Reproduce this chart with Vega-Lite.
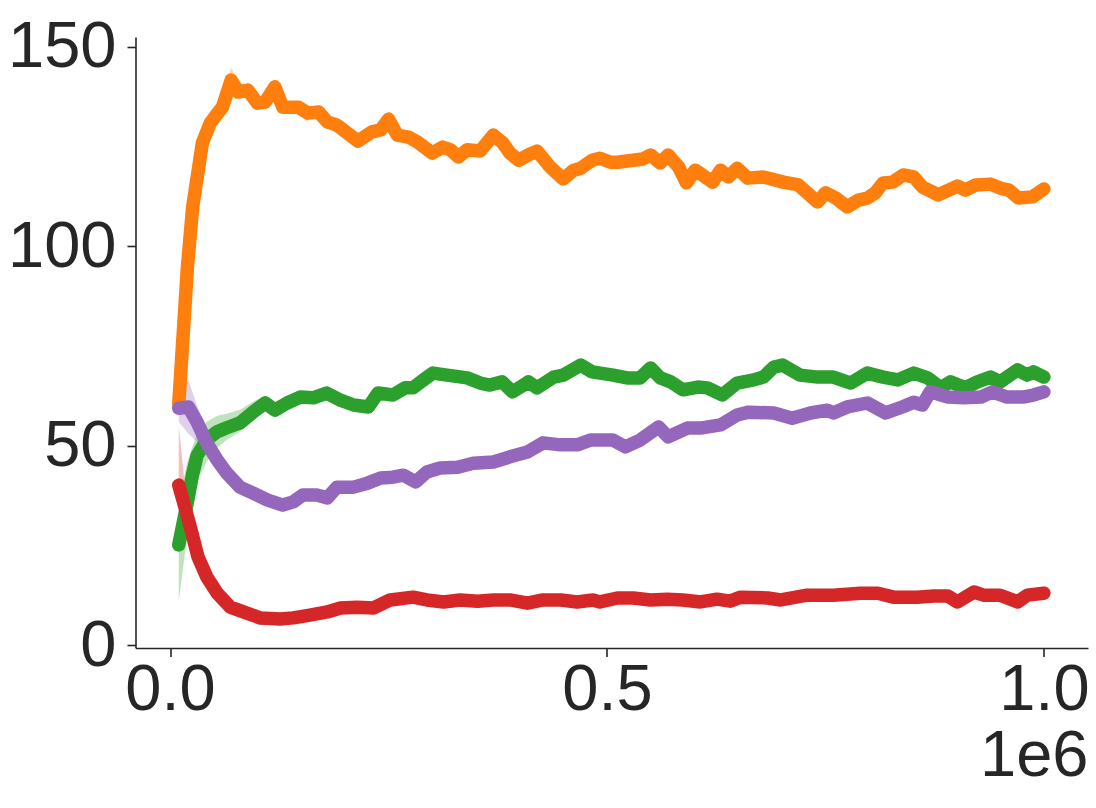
{
  "$schema": "https://vega.github.io/schema/vega-lite/v6.json",
  "width": 952.5,
  "height": 611,
  "autosize": {"type": "none"},
  "padding": {"left": 135.5, "top": 37, "right": 8, "bottom": 160},
  "background": "white",
  "config": {
    "view": {"stroke": null},
    "font": "Liberation Sans",
    "axis": {
      "grid": false,
      "domainColor": "#262626",
      "domainWidth": 1.6,
      "tickColor": "#262626",
      "tickWidth": 1.6,
      "tickSize": 8.5,
      "labelFont": "Liberation Sans",
      "labelFontSize": 65,
      "labelColor": "#262626",
      "labelFlush": false,
      "labelOverlap": false,
      "labelBound": false,
      "titleFont": "Liberation Sans",
      "titleFontSize": 65,
      "titleFontWeight": "normal",
      "titleColor": "#262626"
    }
  },
  "datasets": {
    "lines": [
      {"s": "orange", "x": 10000, "y": 60.5},
      {"s": "orange", "x": 20000, "y": 95},
      {"s": "orange", "x": 26000, "y": 110},
      {"s": "orange", "x": 37000, "y": 125.9},
      {"s": "orange", "x": 46000, "y": 130.9},
      {"s": "orange", "x": 60000, "y": 134.9},
      {"s": "orange", "x": 70000, "y": 141.7},
      {"s": "orange", "x": 78000, "y": 138.7},
      {"s": "orange", "x": 89000, "y": 139.2},
      {"s": "orange", "x": 100000, "y": 135.9},
      {"s": "orange", "x": 109000, "y": 136.2},
      {"s": "orange", "x": 120000, "y": 140.0},
      {"s": "orange", "x": 129000, "y": 134.9},
      {"s": "orange", "x": 147000, "y": 134.9},
      {"s": "orange", "x": 158000, "y": 133.4},
      {"s": "orange", "x": 170000, "y": 133.7},
      {"s": "orange", "x": 180000, "y": 131.2},
      {"s": "orange", "x": 191000, "y": 130.4},
      {"s": "orange", "x": 203000, "y": 128.4},
      {"s": "orange", "x": 215000, "y": 126.4},
      {"s": "orange", "x": 231000, "y": 128.7},
      {"s": "orange", "x": 241000, "y": 129.2},
      {"s": "orange", "x": 250000, "y": 131.9},
      {"s": "orange", "x": 260000, "y": 127.9},
      {"s": "orange", "x": 273000, "y": 127.4},
      {"s": "orange", "x": 283000, "y": 126.2},
      {"s": "orange", "x": 300000, "y": 123.4},
      {"s": "orange", "x": 312000, "y": 124.9},
      {"s": "orange", "x": 321000, "y": 124.2},
      {"s": "orange", "x": 330000, "y": 122.4},
      {"s": "orange", "x": 340000, "y": 124.2},
      {"s": "orange", "x": 355000, "y": 123.9},
      {"s": "orange", "x": 370000, "y": 127.9},
      {"s": "orange", "x": 381000, "y": 125.9},
      {"s": "orange", "x": 389000, "y": 123.4},
      {"s": "orange", "x": 399000, "y": 121.6},
      {"s": "orange", "x": 410000, "y": 122.9},
      {"s": "orange", "x": 420000, "y": 123.9},
      {"s": "orange", "x": 435000, "y": 119.9},
      {"s": "orange", "x": 450000, "y": 116.9},
      {"s": "orange", "x": 462000, "y": 119.1},
      {"s": "orange", "x": 470000, "y": 119.6},
      {"s": "orange", "x": 483000, "y": 121.6},
      {"s": "orange", "x": 492000, "y": 122.1},
      {"s": "orange", "x": 504000, "y": 121.1},
      {"s": "orange", "x": 512000, "y": 121.1},
      {"s": "orange", "x": 530000, "y": 121.6},
      {"s": "orange", "x": 541000, "y": 121.9},
      {"s": "orange", "x": 550000, "y": 122.9},
      {"s": "orange", "x": 561000, "y": 120.9},
      {"s": "orange", "x": 570000, "y": 122.9},
      {"s": "orange", "x": 582000, "y": 119.9},
      {"s": "orange", "x": 591000, "y": 115.9},
      {"s": "orange", "x": 601000, "y": 119.1},
      {"s": "orange", "x": 621000, "y": 116.1},
      {"s": "orange", "x": 630000, "y": 119.1},
      {"s": "orange", "x": 639000, "y": 117.4},
      {"s": "orange", "x": 649000, "y": 119.6},
      {"s": "orange", "x": 661000, "y": 117.1},
      {"s": "orange", "x": 679000, "y": 117.4},
      {"s": "orange", "x": 702000, "y": 116.1},
      {"s": "orange", "x": 719000, "y": 115.4},
      {"s": "orange", "x": 741000, "y": 111.1},
      {"s": "orange", "x": 750000, "y": 113.4},
      {"s": "orange", "x": 762000, "y": 112.1},
      {"s": "orange", "x": 775000, "y": 109.9},
      {"s": "orange", "x": 788000, "y": 111.6},
      {"s": "orange", "x": 798000, "y": 112.1},
      {"s": "orange", "x": 807000, "y": 113.4},
      {"s": "orange", "x": 816000, "y": 115.9},
      {"s": "orange", "x": 827000, "y": 116.1},
      {"s": "orange", "x": 839000, "y": 117.9},
      {"s": "orange", "x": 851000, "y": 117.4},
      {"s": "orange", "x": 861000, "y": 114.9},
      {"s": "orange", "x": 879000, "y": 112.9},
      {"s": "orange", "x": 901000, "y": 115.1},
      {"s": "orange", "x": 910000, "y": 114.1},
      {"s": "orange", "x": 922000, "y": 115.4},
      {"s": "orange", "x": 939000, "y": 115.6},
      {"s": "orange", "x": 950000, "y": 114.6},
      {"s": "orange", "x": 960000, "y": 114.1},
      {"s": "orange", "x": 971000, "y": 112.1},
      {"s": "orange", "x": 987000, "y": 112.4},
      {"s": "orange", "x": 1000000, "y": 114.4},

      {"s": "green", "x": 10000, "y": 25.1},
      {"s": "green", "x": 20000, "y": 36},
      {"s": "green", "x": 26000, "y": 43},
      {"s": "green", "x": 31000, "y": 47.5},
      {"s": "green", "x": 42000, "y": 51.5},
      {"s": "green", "x": 54000, "y": 53.5},
      {"s": "green", "x": 65000, "y": 54.5},
      {"s": "green", "x": 80000, "y": 55.7},
      {"s": "green", "x": 95000, "y": 58.4},
      {"s": "green", "x": 109000, "y": 60.7},
      {"s": "green", "x": 120000, "y": 58.9},
      {"s": "green", "x": 134000, "y": 60.7},
      {"s": "green", "x": 149000, "y": 62.2},
      {"s": "green", "x": 164000, "y": 62.0},
      {"s": "green", "x": 179000, "y": 63.2},
      {"s": "green", "x": 195000, "y": 61.4},
      {"s": "green", "x": 210000, "y": 60.2},
      {"s": "green", "x": 227000, "y": 59.7},
      {"s": "green", "x": 238000, "y": 63.2},
      {"s": "green", "x": 255000, "y": 62.7},
      {"s": "green", "x": 269000, "y": 64.5},
      {"s": "green", "x": 278000, "y": 64.5},
      {"s": "green", "x": 290000, "y": 66.5},
      {"s": "green", "x": 301000, "y": 68.2},
      {"s": "green", "x": 317000, "y": 67.7},
      {"s": "green", "x": 340000, "y": 67.0},
      {"s": "green", "x": 355000, "y": 65.7},
      {"s": "green", "x": 366000, "y": 65.2},
      {"s": "green", "x": 380000, "y": 66.0},
      {"s": "green", "x": 392000, "y": 63.5},
      {"s": "green", "x": 401000, "y": 64.7},
      {"s": "green", "x": 410000, "y": 66.0},
      {"s": "green", "x": 420000, "y": 64.5},
      {"s": "green", "x": 439000, "y": 67.2},
      {"s": "green", "x": 450000, "y": 67.7},
      {"s": "green", "x": 470000, "y": 70.2},
      {"s": "green", "x": 483000, "y": 68.5},
      {"s": "green", "x": 507000, "y": 67.7},
      {"s": "green", "x": 523000, "y": 67.0},
      {"s": "green", "x": 538000, "y": 67.0},
      {"s": "green", "x": 550000, "y": 69.5},
      {"s": "green", "x": 561000, "y": 67.0},
      {"s": "green", "x": 573000, "y": 66.0},
      {"s": "green", "x": 587000, "y": 64.0},
      {"s": "green", "x": 604000, "y": 64.7},
      {"s": "green", "x": 615000, "y": 64.5},
      {"s": "green", "x": 632000, "y": 62.7},
      {"s": "green", "x": 649000, "y": 65.7},
      {"s": "green", "x": 668000, "y": 66.5},
      {"s": "green", "x": 679000, "y": 67.2},
      {"s": "green", "x": 691000, "y": 69.7},
      {"s": "green", "x": 701000, "y": 70.2},
      {"s": "green", "x": 721000, "y": 67.7},
      {"s": "green", "x": 741000, "y": 67.2},
      {"s": "green", "x": 759000, "y": 67.2},
      {"s": "green", "x": 779000, "y": 65.7},
      {"s": "green", "x": 798000, "y": 68.2},
      {"s": "green", "x": 816000, "y": 67.2},
      {"s": "green", "x": 833000, "y": 66.5},
      {"s": "green", "x": 851000, "y": 68.2},
      {"s": "green", "x": 867000, "y": 67.0},
      {"s": "green", "x": 882000, "y": 64.5},
      {"s": "green", "x": 893000, "y": 66.0},
      {"s": "green", "x": 910000, "y": 64.5},
      {"s": "green", "x": 924000, "y": 66.0},
      {"s": "green", "x": 939000, "y": 67.2},
      {"s": "green", "x": 950000, "y": 66.0},
      {"s": "green", "x": 970000, "y": 69.0},
      {"s": "green", "x": 981000, "y": 67.7},
      {"s": "green", "x": 988000, "y": 68.5},
      {"s": "green", "x": 1000000, "y": 67.2},

      {"s": "red", "x": 10000, "y": 40.1},
      {"s": "red", "x": 17000, "y": 34.6},
      {"s": "red", "x": 25000, "y": 28.1},
      {"s": "red", "x": 32000, "y": 22.1},
      {"s": "red", "x": 42000, "y": 17.1},
      {"s": "red", "x": 54000, "y": 13.0},
      {"s": "red", "x": 69000, "y": 9.5},
      {"s": "red", "x": 84000, "y": 8.3},
      {"s": "red", "x": 103000, "y": 6.8},
      {"s": "red", "x": 126000, "y": 6.5},
      {"s": "red", "x": 141000, "y": 6.8},
      {"s": "red", "x": 160000, "y": 7.5},
      {"s": "red", "x": 180000, "y": 8.3},
      {"s": "red", "x": 195000, "y": 9.3},
      {"s": "red", "x": 214000, "y": 9.5},
      {"s": "red", "x": 233000, "y": 9.3},
      {"s": "red", "x": 252000, "y": 11.3},
      {"s": "red", "x": 278000, "y": 12.0},
      {"s": "red", "x": 294000, "y": 11.3},
      {"s": "red", "x": 313000, "y": 10.8},
      {"s": "red", "x": 332000, "y": 11.3},
      {"s": "red", "x": 352000, "y": 11.0},
      {"s": "red", "x": 370000, "y": 11.3},
      {"s": "red", "x": 389000, "y": 11.3},
      {"s": "red", "x": 409000, "y": 10.5},
      {"s": "red", "x": 427000, "y": 11.3},
      {"s": "red", "x": 447000, "y": 11.3},
      {"s": "red", "x": 466000, "y": 10.8},
      {"s": "red", "x": 484000, "y": 11.3},
      {"s": "red", "x": 492000, "y": 10.8},
      {"s": "red", "x": 512000, "y": 11.8},
      {"s": "red", "x": 530000, "y": 11.8},
      {"s": "red", "x": 550000, "y": 11.3},
      {"s": "red", "x": 569000, "y": 11.5},
      {"s": "red", "x": 587000, "y": 11.3},
      {"s": "red", "x": 607000, "y": 10.8},
      {"s": "red", "x": 626000, "y": 11.5},
      {"s": "red", "x": 641000, "y": 11.0},
      {"s": "red", "x": 653000, "y": 12.0},
      {"s": "red", "x": 684000, "y": 11.8},
      {"s": "red", "x": 699000, "y": 11.3},
      {"s": "red", "x": 729000, "y": 12.5},
      {"s": "red", "x": 759000, "y": 12.5},
      {"s": "red", "x": 790000, "y": 13.0},
      {"s": "red", "x": 810000, "y": 13.0},
      {"s": "red", "x": 828000, "y": 12.0},
      {"s": "red", "x": 855000, "y": 12.0},
      {"s": "red", "x": 874000, "y": 12.3},
      {"s": "red", "x": 890000, "y": 12.3},
      {"s": "red", "x": 901000, "y": 10.8},
      {"s": "red", "x": 920000, "y": 13.3},
      {"s": "red", "x": 931000, "y": 12.5},
      {"s": "red", "x": 950000, "y": 12.5},
      {"s": "red", "x": 970000, "y": 10.8},
      {"s": "red", "x": 981000, "y": 12.5},
      {"s": "red", "x": 1000000, "y": 13.0},

      {"s": "purple", "x": 10000, "y": 59.4},
      {"s": "purple", "x": 21000, "y": 59.7},
      {"s": "purple", "x": 31000, "y": 55.9},
      {"s": "purple", "x": 42000, "y": 50.7},
      {"s": "purple", "x": 54000, "y": 46.4},
      {"s": "purple", "x": 65000, "y": 43.1},
      {"s": "purple", "x": 80000, "y": 39.6},
      {"s": "purple", "x": 95000, "y": 38.1},
      {"s": "purple", "x": 111000, "y": 36.4},
      {"s": "purple", "x": 129000, "y": 35.1},
      {"s": "purple", "x": 141000, "y": 35.9},
      {"s": "purple", "x": 152000, "y": 37.6},
      {"s": "purple", "x": 168000, "y": 37.6},
      {"s": "purple", "x": 180000, "y": 36.9},
      {"s": "purple", "x": 191000, "y": 39.6},
      {"s": "purple", "x": 210000, "y": 39.6},
      {"s": "purple", "x": 226000, "y": 40.6},
      {"s": "purple", "x": 241000, "y": 41.9},
      {"s": "purple", "x": 255000, "y": 42.1},
      {"s": "purple", "x": 267000, "y": 42.6},
      {"s": "purple", "x": 281000, "y": 40.9},
      {"s": "purple", "x": 294000, "y": 43.4},
      {"s": "purple", "x": 309000, "y": 44.4},
      {"s": "purple", "x": 329000, "y": 44.6},
      {"s": "purple", "x": 347000, "y": 45.6},
      {"s": "purple", "x": 370000, "y": 45.9},
      {"s": "purple", "x": 389000, "y": 47.2},
      {"s": "purple", "x": 409000, "y": 48.4},
      {"s": "purple", "x": 427000, "y": 50.7},
      {"s": "purple", "x": 447000, "y": 50.2},
      {"s": "purple", "x": 466000, "y": 50.2},
      {"s": "purple", "x": 481000, "y": 51.4},
      {"s": "purple", "x": 507000, "y": 51.4},
      {"s": "purple", "x": 521000, "y": 49.7},
      {"s": "purple", "x": 538000, "y": 51.4},
      {"s": "purple", "x": 559000, "y": 54.7},
      {"s": "purple", "x": 570000, "y": 52.2},
      {"s": "purple", "x": 592000, "y": 54.4},
      {"s": "purple", "x": 607000, "y": 54.4},
      {"s": "purple", "x": 630000, "y": 55.2},
      {"s": "purple", "x": 649000, "y": 57.7},
      {"s": "purple", "x": 662000, "y": 58.4},
      {"s": "purple", "x": 691000, "y": 58.2},
      {"s": "purple", "x": 712000, "y": 56.9},
      {"s": "purple", "x": 733000, "y": 58.2},
      {"s": "purple", "x": 752000, "y": 58.9},
      {"s": "purple", "x": 759000, "y": 58.2},
      {"s": "purple", "x": 775000, "y": 59.7},
      {"s": "purple", "x": 798000, "y": 60.7},
      {"s": "purple", "x": 819000, "y": 58.2},
      {"s": "purple", "x": 838000, "y": 59.7},
      {"s": "purple", "x": 851000, "y": 60.9},
      {"s": "purple", "x": 861000, "y": 60.2},
      {"s": "purple", "x": 870000, "y": 63.5},
      {"s": "purple", "x": 890000, "y": 62.2},
      {"s": "purple", "x": 908000, "y": 62.0},
      {"s": "purple", "x": 928000, "y": 62.2},
      {"s": "purple", "x": 941000, "y": 63.5},
      {"s": "purple", "x": 958000, "y": 62.2},
      {"s": "purple", "x": 976000, "y": 62.2},
      {"s": "purple", "x": 988000, "y": 62.7},
      {"s": "purple", "x": 1000000, "y": 63.5}
    ],
    "bands": [
      {"s": "orange", "x": 10000, "lo": 57, "hi": 63},
      {"s": "orange", "x": 20000, "lo": 90, "hi": 101},
      {"s": "orange", "x": 26000, "lo": 106, "hi": 115},
      {"s": "orange", "x": 37000, "lo": 122, "hi": 129},
      {"s": "orange", "x": 46000, "lo": 128, "hi": 134},
      {"s": "orange", "x": 60000, "lo": 132.5, "hi": 137.5},
      {"s": "orange", "x": 70000, "lo": 139.5, "hi": 145},
      {"s": "orange", "x": 78000, "lo": 137, "hi": 140.5},
      {"s": "orange", "x": 89000, "lo": 137.8, "hi": 140.5},
      {"s": "orange", "x": 100000, "lo": 134.6, "hi": 137.3},
      {"s": "orange", "x": 109000, "lo": 135, "hi": 137.5},
      {"s": "orange", "x": 120000, "lo": 138.7, "hi": 141.3},
      {"s": "orange", "x": 129000, "lo": 133.6, "hi": 136.2},
      {"s": "orange", "x": 147000, "lo": 133.6, "hi": 136.2},
      {"s": "orange", "x": 158000, "lo": 131, "hi": 135},
      {"s": "green", "x": 10000, "lo": 11, "hi": 36},
      {"s": "green", "x": 20000, "lo": 28, "hi": 46},
      {"s": "green", "x": 26000, "lo": 35, "hi": 50},
      {"s": "green", "x": 31000, "lo": 41, "hi": 53},
      {"s": "green", "x": 42000, "lo": 46, "hi": 56},
      {"s": "green", "x": 54000, "lo": 49.5, "hi": 57.5},
      {"s": "green", "x": 65000, "lo": 51.5, "hi": 58},
      {"s": "green", "x": 80000, "lo": 53.5, "hi": 59},
      {"s": "green", "x": 95000, "lo": 56.5, "hi": 61},
      {"s": "green", "x": 109000, "lo": 59, "hi": 62.5},
      {"s": "green", "x": 120000, "lo": 57.5, "hi": 60.5},
      {"s": "green", "x": 134000, "lo": 59.3, "hi": 62},
      {"s": "red", "x": 10000, "lo": 38.5, "hi": 55},
      {"s": "red", "x": 17000, "lo": 31, "hi": 40},
      {"s": "red", "x": 25000, "lo": 25.5, "hi": 31},
      {"s": "red", "x": 32000, "lo": 20, "hi": 24},
      {"s": "red", "x": 42000, "lo": 15.5, "hi": 18.5},
      {"s": "red", "x": 54000, "lo": 12, "hi": 14.3},
      {"s": "red", "x": 69000, "lo": 8.8, "hi": 10.3},
      {"s": "purple", "x": 10000, "lo": 56, "hi": 63},
      {"s": "purple", "x": 21000, "lo": 53, "hi": 66.5},
      {"s": "purple", "x": 31000, "lo": 51, "hi": 60},
      {"s": "purple", "x": 42000, "lo": 48.5, "hi": 53.5},
      {"s": "purple", "x": 54000, "lo": 45, "hi": 48},
      {"s": "purple", "x": 65000, "lo": 42, "hi": 44.3}
    ]
  },
  "layer": [
    {
      "data": {"name": "bands"},
      "mark": {"type": "area", "opacity": 0.3},
      "encoding": {
        "x": {"field": "x", "type": "quantitative", "scale": {"domain": [-39500, 1050500], "nice": false, "zero": false}},
        "y": {"field": "lo", "type": "quantitative", "scale": {"domain": [-0.75, 152.5], "nice": false, "zero": false}},
        "y2": {"field": "hi"},
        "color": {"field": "s", "type": "nominal", "scale": {"domain": ["orange", "green", "red", "purple"], "range": ["#ff7f0e", "#2ca02c", "#d62728", "#9467bd"]}, "legend": null}
      }
    },
    {
      "data": {"name": "lines"},
      "mark": {"type": "line", "strokeWidth": 13.5, "strokeCap": "round", "strokeJoin": "round"},
      "encoding": {
        "x": {
          "field": "x", "type": "quantitative",
          "scale": {"domain": [-39500, 1050500], "nice": false, "zero": false},
          "axis": {
            "values": [0, 500000, 1000000],
            "labelExpr": "format(datum.value / 1000000, '.1f')",
            "labelPadding": 2,
            "title": "1e6",
            "titleAnchor": "end",
            "titleAlign": "right",
            "titlePadding": 2
          }
        },
        "y": {
          "field": "y", "type": "quantitative",
          "scale": {"domain": [-0.75, 152.5], "nice": false, "zero": false},
          "axis": {"values": [0, 50, 100, 150], "labelPadding": 11, "title": null}
        },
        "color": {"field": "s", "type": "nominal", "scale": {"domain": ["orange", "green", "red", "purple"], "range": ["#ff7f0e", "#2ca02c", "#d62728", "#9467bd"]}, "legend": null}
      }
    }
  ]
}
